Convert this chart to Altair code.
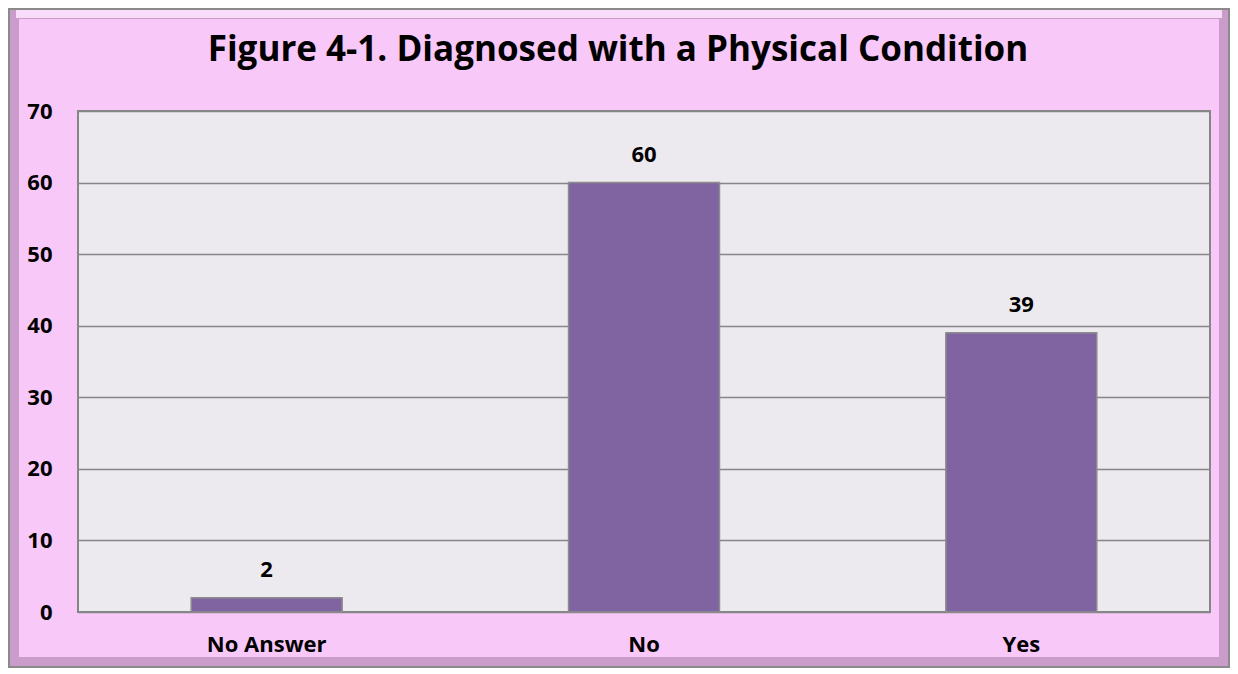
import altair as alt
import pandas as pd

categories = ["No Answer", "No", "Yes"]
values = [2, 60, 39]
title_text = "Figure 4-1. Diagnosed with a Physical Condition"

df = pd.DataFrame({"category": categories, "value": values})

W, H = 1132, 501
PL, PT, PR, PB = 70, 103, 20, 56
FONT = "Open Sans"
LBL = 22

base = alt.Chart(df)

x_enc = alt.X("category:N", sort=categories, title=None,
              scale=alt.Scale(paddingInner=0.6, paddingOuter=0.3),
              axis=alt.Axis(labelAngle=0, labelFont=FONT, labelFontSize=LBL,
                            labelFontWeight="bold", labelColor="black",
                            labelPadding=22, ticks=False, domain=False))
y_enc = alt.Y("value:Q", title=None,
              scale=alt.Scale(domain=[0, 70]),
              axis=alt.Axis(values=[0, 10, 20, 30, 40, 50, 60, 70],
                            labelFont=FONT, labelFontSize=LBL, labelFontWeight="bold",
                            labelColor="black", labelPadding=26, ticks=False,
                            domain=False, grid=True, gridColor="#868686",
                            gridWidth=1.5))

bars = base.mark_bar(color="#8064A2", stroke="#8c8c8c", strokeWidth=1.5).encode(
    x=x_enc, y=y_enc)

labels = base.mark_text(font=FONT, fontSize=LBL, fontWeight="bold", color="black",
                        baseline="middle", dy=-28).encode(
    x=alt.X("category:N", sort=categories), y="value:Q", text="value:Q")

one = pd.DataFrame({"t": [title_text]})
title = alt.Chart(one).mark_text(font=FONT, fontSize=35, fontWeight="bold",
                                 color="black", baseline="middle", align="center").encode(
    x=alt.value(W / 2 - 26), y=alt.value(-61), text="t:N")

frame_outer = alt.Chart(one).mark_rect(
    fill=None, stroke="#c99cc9", strokeWidth=10).encode(
    x=alt.value(-PL + 6), x2=alt.value(W + PR - 6),
    y=alt.value(-PT + 6), y2=alt.value(H + PB - 6))
frame_top = alt.Chart(one).mark_rule(stroke="#f9dcf9", strokeWidth=8).encode(
    x=alt.value(-PL + 8), x2=alt.value(W + PR - 8), y=alt.value(-PT + 6))
frame_line = alt.Chart(one).mark_rect(
    fill=None, stroke="#8a8a8a", strokeWidth=2).encode(
    x=alt.value(-PL + 1), x2=alt.value(W + PR - 1),
    y=alt.value(-PT + 1), y2=alt.value(H + PB - 1))

chart = alt.layer(frame_outer, frame_top, frame_line, bars, labels, title).properties(
    width=W, height=H,
    autosize=alt.AutoSizeParams(type="none"),
    padding={"left": PL, "top": PT, "right": PR, "bottom": PB},
    background="#F8C8F8",
).configure_view(fill="#ECE9EF", stroke="#868686", strokeWidth=2)

chart.save("out.html", embed_options={"renderer": "svg", "actions": False})
